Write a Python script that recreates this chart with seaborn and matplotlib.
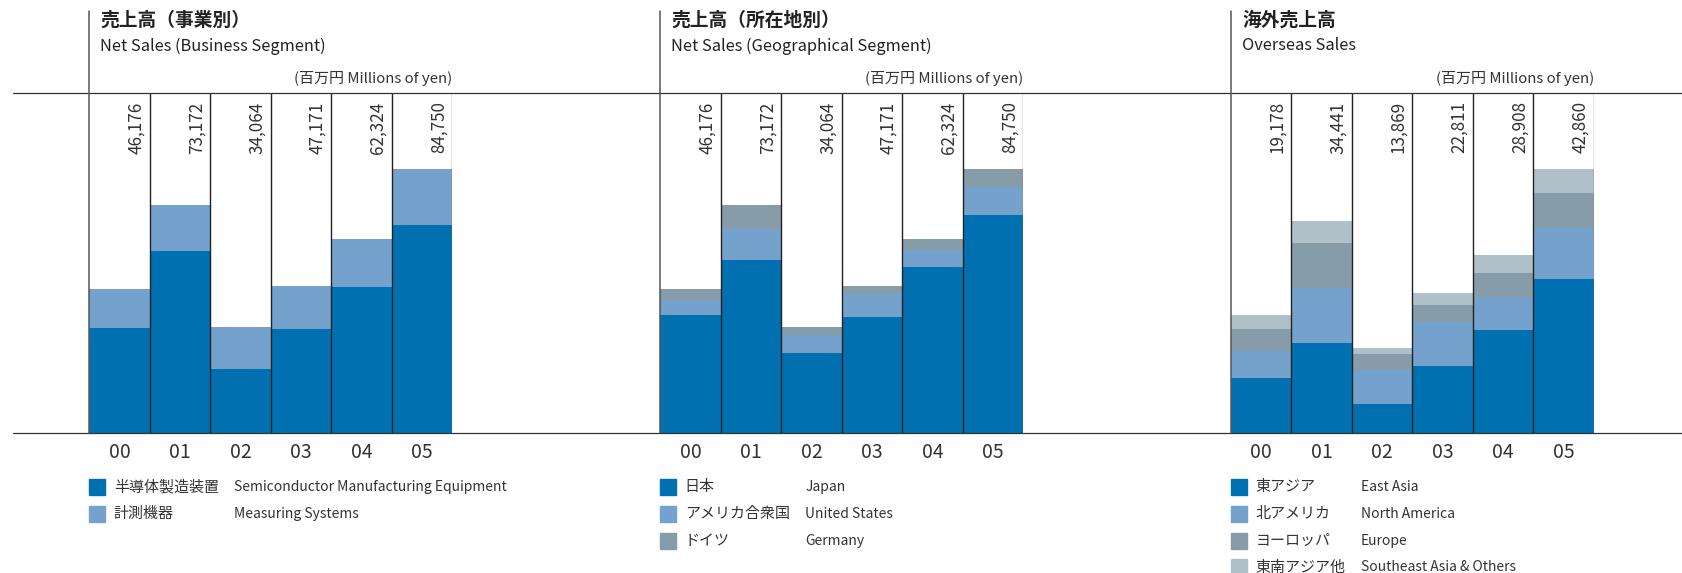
import matplotlib
matplotlib.use('Agg')

import numpy as np
import seaborn as sns
import matplotlib.pyplot as plt
from matplotlib.lines import Line2D
from matplotlib.patches import Rectangle

# data (millions of yen)
years = ["00", "01", "02", "03", "04", "05"]

biz_totals = [46176, 73172, 34064, 47171, 62324, 84750]
biz_semiconductor = [33760, 58450, 20620, 33440, 46910, 66790]
biz_measuring = [12416, 14722, 13444, 13731, 15414, 17960]

geo_totals = [46176, 73172, 34064, 47171, 62324, 84750]
geo_japan = [37940, 55570, 25760, 37300, 53330, 70000]
geo_us = [4916, 9832, 5771, 7481, 5557, 8870]
geo_germany = [3320, 7770, 2533, 2390, 3437, 5880]

ovs_totals = [19178, 34441, 13869, 22811, 28908, 42860]
ovs_east_asia = [8972, 14648, 4756, 10918, 16756, 25025]
ovs_north_america = [4378, 8918, 5567, 7189, 5297, 8270]
ovs_europe = [3567, 7297, 2540, 2703, 3946, 5675]
ovs_se_asia = [2261, 3578, 1006, 2001, 2909, 3890]

biz_labels = [("半導体製造装置", "Semiconductor Manufacturing Equipment"),
              ("計測機器", "Measuring Systems")]
geo_labels = [("日本", "Japan"), ("アメリカ合衆国", "United States"), ("ドイツ", "Germany")]
ovs_labels = [("東アジア", "East Asia"), ("北アメリカ", "North America"),
              ("ヨーロッパ", "Europe"), ("東南アジア他", "Southeast Asia & Others")]

titles = [("売上高（事業別）", "Net Sales (Business Segment)"),
          ("売上高（所在地別）", "Net Sales (Geographical Segment)"),
          ("海外売上高", "Overseas Sales")]
unit_label = "(百万円 Millions of yen)"

palette = ["#0070b0", "#74a2cc", "#869ca8", "#afc0c9"]
text_color = "#333333"

sns.set_theme(style="white")
plt.rcParams['font.family'] = ['Noto Sans CJK JP', 'DejaVu Sans']

W, H = 1683, 573
fig = plt.figure(figsize=(W / 100, H / 100), dpi=100)

top_px, base_px = 93.3, 433.3
panel_left = [89.3, 660.3, 1231.0]
panel_w = 363.0
en_offset = [145, 145, 130]

def fx(px):
    return px / W

def fy(px):
    return 1 - px / H

# full-width rules
for y in (top_px, base_px):
    fig.add_artist(Line2D([fx(13), 1], [fy(y), fy(y)], color="#333333", lw=0.9))

panels = [
    (biz_totals, [biz_semiconductor, biz_measuring], biz_labels, 109000),
    (geo_totals, [geo_japan, geo_us, geo_germany], geo_labels, 109000),
    (ovs_totals, [ovs_east_asia, ovs_north_america, ovs_europe, ovs_se_asia], ovs_labels, 55100),
]

for k, (totals, layers, labels, ymax) in enumerate(panels):
    left = panel_left[k]
    ax = fig.add_axes([fx(left), fy(base_px), panel_w / W, (base_px - top_px) / H])
    colors = palette[:len(layers)]
    cum = np.cumsum(np.array(layers), axis=0)
    # draw stacked bars from the tallest level down
    for level, c in zip(cum[::-1], colors[::-1]):
        sns.barplot(x=years, y=level, color=c, width=1, saturation=1,
                    errorbar=None, linewidth=0, ax=ax)
    ax.set(xlim=(-0.5, len(years) - 0.5), ylim=(0, ymax), xlabel="", ylabel="", yticks=[])
    for s in ax.spines.values():
        s.set_visible(False)
    for i in range(len(years)):
        ax.axvline(i + 0.5, color="#222222" if i < len(years) - 1 else "#777777", lw=1.0)
    ax.tick_params(axis="x", length=0, pad=6, labelsize=14, labelcolor=text_color)

    for i, v in enumerate(totals):
        ax.text(i + 0.27, 1 - 8 / 340, f"{v:,}", transform=ax.get_xaxis_transform(),
                rotation=90, ha="center", va="top", fontsize=12.3, color=text_color)

    # panel vertical rule
    fig.add_artist(Line2D([fx(left), fx(left)], [fy(11), fy(base_px)], color="#555555", lw=1.1))

    # titles
    fig.text(fx(left + 11), fy(20), titles[k][0], fontsize=13.5, fontweight="bold",
             color="#222222", va="center")
    fig.text(fx(left + 11), fy(46), titles[k][1], fontsize=11.8, color="#222222", va="center")
    fig.text(fx(left + panel_w), fy(78), unit_label, fontsize=10.8, color=text_color,
             ha="right", va="center")

    # legend
    for j, ((jp, en), c) in enumerate(zip(labels, colors)):
        row_top = 479 + j * 26.8
        fig.add_artist(Rectangle((fx(left), fy(row_top + 16)), 16 / W, 16 / H,
                                 color=c, transform=fig.transFigure))
        fig.text(fx(left + 24.5), fy(row_top + 8), jp, fontsize=10.8, color=text_color, va="center")
        fig.text(fx(left + en_offset[k]), fy(row_top + 8), en, fontsize=10,
                 color=text_color, va="center")

fig.savefig("out.png", dpi=100)
plt.close(fig)
